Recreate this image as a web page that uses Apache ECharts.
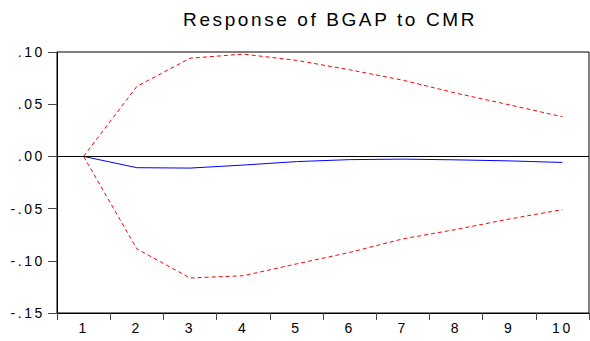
<!DOCTYPE html>
<html>
<head>
<meta charset="utf-8">
<script src="https://cdn.jsdelivr.net/npm/echarts@6/dist/echarts.min.js"></script>
<style>
  html, body { margin: 0; padding: 0; background: #fff; }
  #chart { width: 590px; height: 341px; }
  /* spaced-out lettering for every label in the SVG output */
  #chart text { letter-spacing: 2.6px; }
</style>
</head>
<body>
<div id="chart"></div>
<script>
// Impulse response periods and values
const periods = ['1', '2', '3', '4', '5', '6', '7', '8', '9', '10'];
const response = [0, -0.0108, -0.0112, -0.0083, -0.0050, -0.0031, -0.0026, -0.0033, -0.0043, -0.0058];
const upperBand = [0, 0.067, 0.094, 0.098, 0.092, 0.083, 0.073, 0.0606, 0.0494, 0.038];
const lowerBand = [0, -0.0885, -0.1165, -0.1143, -0.103, -0.092, -0.079, -0.070, -0.060, -0.051];

// Value axis ticks and their printed form
const yTicks = [-0.15, -0.10, -0.05, 0.00, 0.05, 0.10];
const yTickLabels = ['-.15', '-.10', '-.05', '.00', '.05', '.10'];

const chart = echarts.init(document.getElementById('chart'), null, { renderer: 'svg' });

const fontFamily = '"Liberation Sans", Arial, sans-serif';

chart.setOption({
  animation: false,
  backgroundColor: '#ffffff',
  title: {
    text: 'Response of BGAP to CMR',
    left: 325,
    top: 5,
    textAlign: 'center',
    textStyle: { fontFamily, fontSize: 19, fontWeight: 'normal', color: '#000' }
  },
  grid: {
    left: 57, right: 1, top: 52, bottom: 28,
    show: true, borderColor: '#000', borderWidth: 1, backgroundColor: 'transparent'
  },
  xAxis: {
    type: 'category',
    data: periods,
    boundaryGap: true,
    axisLine: { onZero: false, lineStyle: { color: '#000', width: 1 } },
    axisTick: { show: true, inside: false, length: 7, alignWithLabel: false, lineStyle: { color: '#444' } },
    axisLabel: { margin: 8, fontFamily, fontSize: 14, color: '#000' },
    splitLine: { show: false }
  },
  yAxis: {
    type: 'value',
    min: -0.15, max: 0.10, interval: 0.05,
    axisLine: { show: true, onZero: false, lineStyle: { color: '#000', width: 1 } },
    axisTick: { show: true, inside: false, length: 9, lineStyle: { color: '#444' } },
    axisLabel: {
      margin: 12, fontFamily, fontSize: 14, color: '#000',
      formatter: (v) => {
        let best = 0;
        yTicks.forEach((t, i) => { if (Math.abs(t - v) < Math.abs(yTicks[best] - v)) best = i; });
        return yTickLabels[best];
      }
    },
    splitLine: { show: false }
  },
  series: [
    {
      name: 'Response',
      type: 'line',
      data: response,
      symbol: 'none',
      lineStyle: { color: '#0000ff', width: 1 },
      z: 3,
      markLine: {
        silent: true,
        symbol: 'none',
        label: { show: false },
        lineStyle: { color: '#000', width: 1, type: 'solid' },
        data: [{ yAxis: 0 }]
      }
    },
    {
      name: 'Upper',
      type: 'line',
      data: upperBand,
      symbol: 'none',
      lineStyle: { color: '#ff0000', width: 1, type: [4, 3] },
      z: 2
    },
    {
      name: 'Lower',
      type: 'line',
      data: lowerBand,
      symbol: 'none',
      lineStyle: { color: '#ff0000', width: 1, type: [4, 3] },
      z: 2
    }
  ]
});
</script>
</body>
</html>
